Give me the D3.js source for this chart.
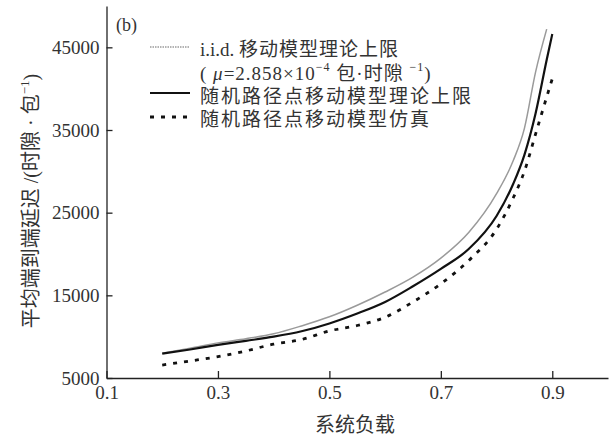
<!DOCTYPE html>
<html>
<head>
<meta charset="utf-8">
<script src="https://cdn.jsdelivr.net/npm/d3@7"></script>
<style>
    body { margin: 0; background: #fff; }
    svg text { font-family: "Liberation Serif", "Noto Sans CJK SC", serif; fill: #333; }
</style>
</head>
<body>
<div id="chart"></div>
<script>
// system load (x) shared by all series
var loads = [0.2, 0.25, 0.3, 0.35, 0.4, 0.45, 0.5, 0.55, 0.6, 0.65, 0.7, 0.75, 0.8, 0.83, 0.85, 0.87, 0.89, 0.9];
// i.i.d. mobility upper bound (ends a little before 0.9)
var iidBound = [8000, 8600, 9250, 9750, 10350, 11300, 12400, 13800, 15400, 17200, 19500, 22600, 27300, 31300, 35200, 42000, 47200, null];
// random waypoint upper bound
var rwpBound = [7950, 8450, 9000, 9500, 10000, 10650, 11600, 12800, 14200, 16100, 18200, 20600, 24600, 28500, 32000, 37000, 43500, 46600];
// random waypoint simulation
var rwpSim = [6570, 7060, 7580, 8270, 9100, 9650, 10700, 11350, 12350, 14200, 16400, 19200, 23000, 26800, 30000, 34500, 39000, 41200];

var xTicks = [0.1, 0.3, 0.5, 0.7, 0.9];
var yTicks = [5000, 15000, 25000, 35000, 45000];

var W = 610, H = 436;

var svg = d3.select('#chart').append('svg')
    .attr('width', W).attr('height', H);

var x = d3.scaleLinear().domain([0.1, 1.0]).range([106.5, 608]);
var y = d3.scaleLinear().domain([5000, 50000]).range([378, 6]);

var xAxis = svg.append('g')
    .attr('transform', 'translate(0,378)')
    .call(d3.axisBottom(x).tickValues(xTicks).tickSize(-7).tickSizeOuter(0).tickPadding(8)
        .tickFormat(d3.format('.1f')));

var yAxis = svg.append('g')
    .attr('transform', 'translate(106.5,0)')
    .call(d3.axisLeft(y).tickValues(yTicks).tickSize(-6).tickSizeOuter(0).tickPadding(7)
        .tickFormat(d3.format('d')));

[xAxis, yAxis].forEach(function(g) {
    g.selectAll('path, line').attr('stroke', '#222').attr('stroke-width', 1.3);
    g.selectAll('text').style('font-size', '19px').attr('fill', '#333');
});

svg.append('text')
    .attr('x', 355).attr('y', 425)
    .attr('text-anchor', 'middle').attr('dominant-baseline', 'central')
    .style('font-size', '20px')
    .text('系统负载');

var yt = svg.append('text')
    .attr('transform', 'translate(31,201) rotate(-90)')
    .attr('text-anchor', 'middle').attr('dominant-baseline', 'central')
    .style('font-size', '20px');
yt.append('tspan').text('平均端到端延迟 /(时隙 · 包');
yt.append('tspan').attr('dy', -7).style('font-size', '13px').text('−1');
yt.append('tspan').attr('dy', 7).text(')');

svg.append('text')
    .attr('x', 116).attr('y', 25)
    .attr('dominant-baseline', 'central')
    .style('font-size', '18px')
    .text('(b)');

var series = [
    { values: iidBound, stroke: '#9a9a9a', width: 1.5, dash: null },
    { values: rwpBound, stroke: '#111', width: 2.2, dash: null },
    { values: rwpSim, stroke: '#111', width: 2.8, dash: '4,7' }
];

var line = d3.line()
    .defined(function(d) { return d[1] !== null; })
    .x(function(d) { return x(d[0]); })
    .y(function(d) { return y(d[1]); })
    .curve(d3.curveMonotoneX);

svg.selectAll('path.series')
    .data(series).enter().append('path')
    .attr('class', 'series')
    .attr('d', function(s) {
        return line(loads.map(function(l, i) { return [l, s.values[i]]; }));
    })
    .attr('fill', 'none')
    .attr('stroke', function(s) { return s.stroke; })
    .attr('stroke-width', function(s) { return s.width; })
    .attr('stroke-dasharray', function(s) { return s.dash; });

// legend
var legend = svg.append('g');
var legendRows = [
    { y: 47, ty: 49, s: { stroke: '#9a9a9a', width: 1.3, dash: '1.5,1' }, pre: 'i.i.d. ', label: '移动模型理论上限', ls: 1 },
    { y: 93, ty: 96, s: series[1], pre: '', label: '随机路径点移动模型理论上限', ls: 2 },
    { y: 117, ty: 119, s: series[2], pre: '', label: '随机路径点移动模型仿真', ls: 2 }
];
legendRows.forEach(function(r) {
    legend.append('line')
        .attr('x1', 150).attr('x2', 190).attr('y1', r.y).attr('y2', r.y)
        .attr('stroke', r.s.stroke)
        .attr('stroke-width', r.s.width)
        .attr('stroke-dasharray', r.s.dash);
    var t = legend.append('text')
        .attr('x', 200).attr('y', r.ty)
        .attr('dominant-baseline', 'central')
        .style('font-size', '19px');
    t.append('tspan').text(r.pre);
    t.append('tspan').style('letter-spacing', r.ls + 'px').text(r.label);
});

var mu = legend.append('text')
    .attr('x', 200).attr('y', 73)
    .attr('dominant-baseline', 'central')
    .style('font-size', '19px')
    .style('letter-spacing', '1px');
mu.append('tspan').text('( ');
mu.append('tspan').style('font-style', 'italic').text('μ');
mu.append('tspan').text('=2.858×10');
mu.append('tspan').attr('dy', -6).style('font-size', '12px').text('−4');
mu.append('tspan').attr('dy', 6).text(' 包·时隙 ');
mu.append('tspan').attr('dy', -6).style('font-size', '12px').text('−1');
mu.append('tspan').attr('dy', 6).text(')');
</script>
</body>
</html>
